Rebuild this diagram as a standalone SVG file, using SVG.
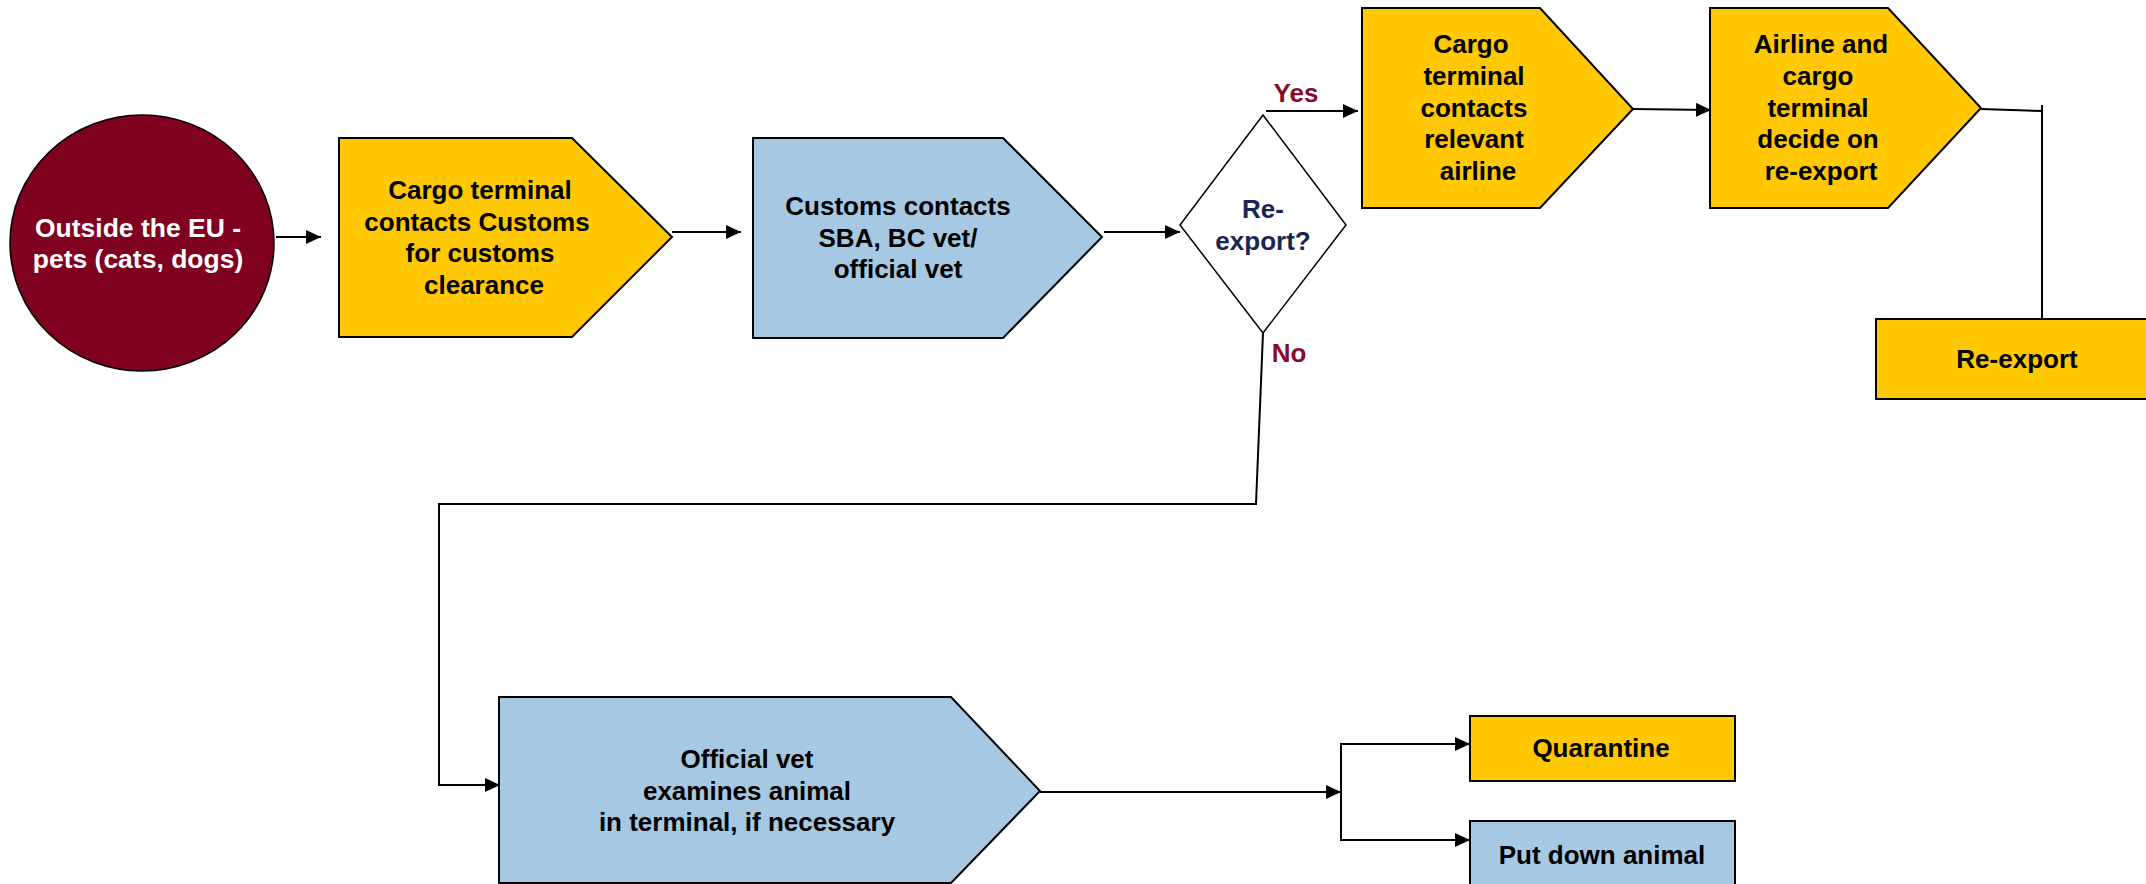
<svg xmlns="http://www.w3.org/2000/svg" width="2146" height="884" viewBox="0 0 2146 884">
<style>
.t{font-family:"Liberation Sans",Arial,sans-serif;font-weight:bold;font-size:26px;fill:#000;text-anchor:middle}
.w{fill:#fff;font-size:26.5px}
.n{fill:#1c2550}
.lbl{fill:#8a0a2a}
.y{fill:#ffc800;stroke:#000;stroke-width:2}
.b{fill:#a6c8e2;stroke:#000;stroke-width:2}
.c{fill:none;stroke:#000;stroke-width:2}
</style>
<defs>
<marker id="ah" markerUnits="userSpaceOnUse" markerWidth="16" markerHeight="14" refX="15" refY="7" orient="auto">
<path d="M0,0 L15,7 L0,14 Z" fill="#000"/>
</marker>
</defs>
<rect width="2146" height="884" fill="#fff"/>
<g id="connectors">
<line class="c" x1="276" y1="237" x2="321" y2="237" marker-end="url(#ah)"/>
<line class="c" x1="672" y1="232" x2="741" y2="232" marker-end="url(#ah)"/>
<line class="c" x1="1104" y1="232" x2="1180" y2="232" marker-end="url(#ah)"/>
<line class="c" x1="1266" y1="111" x2="1358" y2="111" marker-end="url(#ah)"/>
<line class="c" x1="1633" y1="109" x2="1711" y2="110" marker-end="url(#ah)"/>
<polyline class="c" points="1981,109 2042,111"/>
<line class="c" x1="2042" y1="105" x2="2042" y2="319"/>
<polyline class="c" points="1263,333 1256,504 439,504 439,785 500,785" marker-end="url(#ah)"/>
<line class="c" x1="1040" y1="792" x2="1341" y2="792" marker-end="url(#ah)"/>
<polyline class="c" points="1470,744 1341,744 1341,840 1470,840"/>
<line class="c" x1="1341" y1="744" x2="1470" y2="744" marker-end="url(#ah)"/>
<line class="c" x1="1341" y1="840" x2="1470" y2="840" marker-end="url(#ah)"/>
<text class="t lbl" x="1296" y="102">Yes</text>
<text class="t lbl" x="1289" y="362">No</text>
</g>
<g id="start">
<ellipse cx="142" cy="243" rx="132" ry="128" fill="#800020" stroke="#000" stroke-width="1.5"/>
<text class="t w" x="138" y="237">Outside the EU -</text>
<text class="t w" x="138" y="268">pets (cats, dogs)</text>
</g>
<g id="n1">
<polygon class="y" points="339,138 572,138 672,237 572,337 339,337"/>
<text class="t" x="480" y="199">Cargo terminal</text>
<text class="t" x="477" y="231">contacts Customs</text>
<text class="t" x="480" y="262">for customs</text>
<text class="t" x="484" y="294">clearance</text>
</g>
<g id="n2">
<polygon class="b" points="753,138 1003,138 1102,237 1003,338 753,338"/>
<text class="t" x="898" y="215">Customs contacts</text>
<text class="t" x="898" y="247">SBA, BC vet/</text>
<text class="t" x="898" y="278">official vet</text>
</g>
<g id="decision">
<polygon points="1263,115 1346,225 1263,333 1180,225" fill="#fff" stroke="#000" stroke-width="1.5"/>
<text class="t n" x="1263" y="218">Re-</text>
<text class="t n" x="1263" y="250">export?</text>
</g>
<g id="n3">
<polygon class="y" points="1362,8 1540,8 1633,109 1540,208 1362,208"/>
<text class="t" x="1471" y="53">Cargo</text>
<text class="t" x="1474" y="85">terminal</text>
<text class="t" x="1474" y="117">contacts</text>
<text class="t" x="1474" y="148">relevant</text>
<text class="t" x="1478" y="180">airline</text>
</g>
<g id="n4">
<polygon class="y" points="1710,8 1888,8 1981,108 1888,208 1710,208"/>
<text class="t" x="1821" y="53">Airline and</text>
<text class="t" x="1818" y="85">cargo</text>
<text class="t" x="1818" y="117">terminal</text>
<text class="t" x="1818" y="148">decide on</text>
<text class="t" x="1821" y="180">re-export</text>
</g>
<g id="reexport">
<rect class="y" x="1876" y="319" width="280" height="80"/>
<text class="t" x="2017" y="368">Re-export</text>
</g>
<g id="n5">
<polygon class="b" points="499,697 951,697 1040,791 951,883 499,883"/>
<text class="t" x="747" y="768">Official vet</text>
<text class="t" x="747" y="800">examines animal</text>
<text class="t" x="747" y="831">in terminal, if necessary</text>
</g>
<g id="quarantine">
<rect class="y" x="1470" y="716" width="265" height="65"/>
<text class="t" x="1601" y="757">Quarantine</text>
</g>
<g id="putdown">
<rect class="b" x="1470" y="821" width="265" height="70"/>
<text class="t" x="1602" y="864">Put down animal</text>
</g>
</svg>
